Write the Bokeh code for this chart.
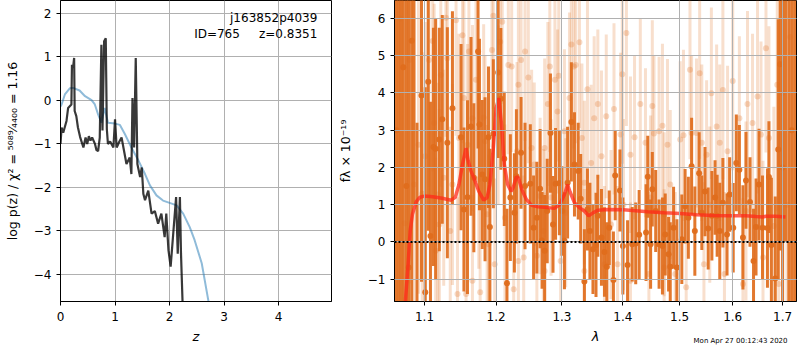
import numpy as np
from bokeh.plotting import figure
from bokeh.layouts import row
from bokeh.models import FixedTicker, PrintfTickFormatter, Span, Label, Title, CustomJSTickFormatter
from bokeh.embed import file_html
from bokeh.resources import INLINE

FONT = "DejaVu Sans"

# ---------------- left panel: log p(z) ----------------
PZ_Z_SMOOTH = [0.0, 0.02, 0.08, 0.17, 0.23, 0.35, 0.45, 0.57, 0.63, 0.69,
               0.75, 0.81, 0.87, 1.0, 1.09, 1.18, 1.3, 1.43, 1.55, 1.64,
               1.76, 1.88, 2.04, 2.13, 2.25, 2.37, 2.46, 2.59, 2.71, 2.8]
PZ_LOG_SMOOTH = [-0.15, -0.1, 0.13, 0.27, 0.28, 0.22, 0.09, 0.0, -0.1, -0.33,
                 -0.52, -0.18, -0.52, -0.54, -0.57, -0.78, -1.09, -1.39, -1.7, -1.96,
                 -2.19, -2.31, -2.38, -2.42, -2.61, -2.92, -3.22, -3.75, -4.6, -5.3]

PZ_Z = [0.0, 0.02, 0.05, 0.11, 0.14, 0.17, 0.20, 0.21, 0.23, 0.25,
        0.26, 0.29, 0.32, 0.36, 0.42, 0.46, 0.49, 0.52, 0.55, 0.58,
        0.63, 0.66, 0.69, 0.72, 0.75, 0.77, 0.80, 0.83, 0.85, 0.87,
        0.91, 0.97, 1.00, 1.03, 1.08, 1.12, 1.17, 1.21, 1.27, 1.30,
        1.32, 1.35, 1.38, 1.41, 1.46, 1.49, 1.52, 1.55, 1.61, 1.67,
        1.73, 1.79, 1.85, 1.91, 1.94, 1.98, 2.02, 2.07, 2.12, 2.15,
        2.19, 2.21, 2.24, 2.27]
PZ_LOG = [-1.01, -0.63, -0.75, -0.48, -0.18, -0.14, -0.10, 0.81, 0.74, 0.97,
          -0.25, -0.37, -0.63, -0.85, -1.09, -0.86, -1.01, -0.83, -0.93, -0.86,
          -1.00, -1.15, -1.17, -0.86, 1.27, -0.70, 1.35, 1.42, -0.67, -1.01,
          -0.95, -1.09, -0.44, -1.09, -0.95, -0.86, -1.20, -1.47, -1.32, -1.70,
          0.05, -1.09, 0.97, -1.47, -1.77, -1.55, -2.16, -2.30, -2.08, -2.61,
          -2.55, -2.84, -2.61, -3.15, -2.61, -3.45, -3.83, -3.03, -2.23, -3.53,
          -2.23, -3.53, -4.70, -6.50]

Z_TICKS = [0, 1, 2, 3, 4]
LOGP_TICKS = [-4, -3, -2, -1, 0, 1, 2]
FIELD_TEXT = "j163852p4039"
ID_TEXT = "ID=765"
Z_TEXT = "z=0.8351"

# ---------------- right panel: spectrum ----------------
DARK_WAVE = [1.072, 1.079, 1.083, 1.096, 1.101, 1.105, 1.108, 1.112, 1.115, 1.120,
             1.124, 1.131, 1.138, 1.150, 1.154, 1.159, 1.164, 1.168, 1.174, 1.176,
             1.180, 1.184, 1.189, 1.191, 1.196, 1.203, 1.207, 1.212, 1.216, 1.221,
             1.227, 1.230, 1.237, 1.243, 1.251, 1.256, 1.261, 1.266, 1.269, 1.273,
             1.277, 1.282, 1.286, 1.290, 1.296, 1.300, 1.304, 1.309, 1.315, 1.320,
             1.326, 1.330, 1.336, 1.341, 1.345, 1.350, 1.355, 1.358, 1.364, 1.369,
             1.373, 1.377, 1.384, 1.387, 1.395, 1.400, 1.408, 1.416, 1.422, 1.428,
             1.440, 1.443, 1.448, 1.451, 1.457, 1.463, 1.469, 1.474, 1.480, 1.483,
             1.489, 1.495, 1.504, 1.510, 1.516, 1.522, 1.528, 1.536, 1.541, 1.547,
             1.553, 1.560, 1.566, 1.570, 1.575, 1.581, 1.589, 1.594, 1.601, 1.607,
             1.613, 1.620, 1.626, 1.634, 1.641, 1.646, 1.652, 1.659, 1.669, 1.672,
             1.677, 1.685, 1.691, 1.695,
             1.063, 1.066, 1.069, 1.076, 1.086, 1.090, 1.700, 1.706, 1.713, 1.719, 1.725]
DARK_FLUX = [4.69, -0.69, 5.40, 3.93, -1.35, 4.30, 0.16, 2.55, 2.50, 2.75,
             3.29, 2.66, 3.59, 2.81, 0.87, 1.20, 3.10, 1.72, 5.11, 3.15,
             1.81, 1.68, 2.81, 0.40, 2.90, 4.55, 3.84, 2.23, -1.11, 1.19,
             0.78, 1.76, 2.39, 1.50, 1.56, 0.38, 0.65, 1.43, 0.04, -0.24,
             0.83, 2.92, 0.47, 1.56, 1.58, 0.83, 0.03, 1.59, 3.22, 2.08,
             1.90, 1.16, -1.06, 0.87, 0.29, -0.20, -0.08, 0.70, 0.12, -0.27,
             -0.67, 0.38, -1.02, 1.78, 1.38, -0.11, -0.62, -0.06, -0.04, 0.19,
             0.25, 1.75, -0.06, 1.41, 0.83, -0.06, -0.11, 0.20, -0.33, -0.67,
             0.38, -0.69, 0.07, 0.96, 0.65, 2.03, 0.29, 1.84, 0.78, 1.35,
             0.36, 0.70, 1.19, 0.70, 0.29, 1.05, 0.20, 1.27, 0.38, 2.12,
             1.94, 0.12, 1.65, 1.07, -0.51, 0.40, 1.54, 0.38, 0.37, 1.74,
             -0.08, -0.98, 2.48, 4.77,
             3.0, -2.5, 7.5, 1.5, 8.0, -2.8, 2.0, 9.0, -3.0, 3.0, 8.0]
DARK_ERR = [9.0, 7.5, 8.0, 5.0, 5.5, 4.0, 3.6, 3.2, 3.5, 3.0,
            2.8, 3.1, 2.6, 2.5, 2.2, 2.6, 2.4, 2.0, 2.6, 2.3,
            2.0, 2.2, 1.9, 2.1, 2.0, 2.3, 1.9, 1.8, 2.0, 1.7,
            1.6, 1.8, 1.5, 1.7, 1.6, 1.4, 1.5, 1.6, 1.3, 1.5,
            1.4, 1.6, 1.3, 1.5, 1.4, 1.2, 1.3, 1.5, 1.6, 1.4,
            1.3, 1.2, 1.4, 1.1, 1.3, 1.2, 1.4, 1.1, 1.3, 1.2,
            1.2, 1.0, 1.3, 1.2, 1.1, 1.3, 1.2, 1.0, 1.1, 1.2,
            1.3, 1.1, 1.2, 1.0, 1.1, 1.2, 1.3, 1.1, 1.0, 1.2,
            1.1, 1.3, 1.2, 1.0, 1.1, 1.3, 1.2, 1.1, 1.0, 1.2,
            1.1, 1.2, 1.0, 1.1, 1.3, 1.2, 1.1, 1.0, 1.2, 1.3,
            1.2, 1.4, 1.3, 1.2, 1.4, 1.3, 1.5, 1.4, 1.6, 1.5,
            1.8, 2.2, 3.5, 5.0,
            12, 12, 11, 10, 7, 6, 10, 9, 12, 11, 12]

LIGHT_WAVE = [1.080, 1.086, 1.092, 1.097, 1.101, 1.106, 1.111, 1.113, 1.118, 1.120,
              1.122, 1.126, 1.129, 1.131, 1.135, 1.138, 1.143, 1.145, 1.147, 1.152,
              1.154, 1.157, 1.159, 1.161, 1.166, 1.171, 1.175, 1.177, 1.182, 1.184,
              1.187, 1.194, 1.196, 1.198, 1.203, 1.206, 1.209, 1.213, 1.218, 1.223,
              1.226, 1.231, 1.233, 1.237, 1.241, 1.243, 1.248, 1.253, 1.257, 1.261,
              1.266, 1.271, 1.273, 1.278, 1.281, 1.283, 1.289, 1.293, 1.295, 1.298,
              1.304, 1.306, 1.312, 1.315, 1.319, 1.322, 1.328, 1.332, 1.336, 1.341,
              1.347, 1.352, 1.358, 1.364, 1.369, 1.372, 1.380, 1.385, 1.391, 1.396,
              1.399, 1.406, 1.413, 1.420, 1.430, 1.439, 1.445, 1.451, 1.454, 1.463,
              1.469, 1.472, 1.478, 1.483, 1.492, 1.501, 1.507, 1.512, 1.519, 1.522,
              1.531, 1.537, 1.541, 1.545, 1.550, 1.559, 1.569, 1.575, 1.581, 1.584,
              1.590, 1.600, 1.613, 1.620, 1.629, 1.639, 1.649, 1.656, 1.660, 1.666,
              1.672, 1.682, 1.689, 1.692, 1.115, 1.166, 1.233, 1.273, 1.189, 1.336,
              1.413, 1.401, 1.472, 1.556, 1.626, 1.448,
              1.064, 1.068, 1.074, 1.700, 1.709, 1.716]
LIGHT_FLUX = [4.88, 1.54, 2.61, 1.29, 2.30, 4.88, 5.39, 3.19, 1.27, 0.47,
              4.48, 1.72, 6.02, 4.93, 0.29, 1.54, 5.95, -1.40, 2.79, 5.55,
              3.86, -1.40, 2.61, 5.11, 3.32, 4.35, 1.68, -1.35, 3.34, 2.70,
              0.74, 5.15, 6.07, -0.60, 3.41, 5.37, 5.91, 0.65, 4.75, 4.71,
              -1.27, 2.43, 4.22, 4.88, -0.42, 5.11, 4.41, 2.52, 2.08, -0.37,
              1.23, 0.29, 2.52, 3.70, 4.71, 1.19, 4.35, 3.50, 4.46, -0.51,
              2.97, 0.78, 3.86, 5.30, 4.71, 4.75, 5.36, 2.79, 1.59, 4.10,
              2.12, 3.32, 3.70, 2.30, -0.60, 3.37, 0.47, 3.57, -0.60, 2.88,
              4.50, 5.61, 2.34, 2.81, 3.70, 2.66, -0.86, 3.65, 2.91, 2.97,
              3.12, -0.69, 2.61, 1.54, -0.86, 2.75, 2.86, -1.22, 4.62, 2.92,
              2.92, 4.53, 2.66, -0.60, 2.34, 3.99, 3.10, 2.66, 4.08, -0.86,
              2.43, 4.32, 3.32, -1.13, 3.70, 3.19, 3.90, 2.88, -0.42, 5.20,
              2.79, 0.43, 4.22, -1.13, -0.24, -1.04, -0.51, -0.78, -0.06, -0.78,
              -1.04, 1.00, 0.74, 1.00, 0.83, 1.19,
              2.0, 6.0, 0.5, 4.0, 1.0, 5.5]
LIGHT_ERR = [6.0, 4.5, 4.0, 3.8, 3.6, 3.4, 3.5, 3.2, 3.0, 3.1,
             3.0, 2.9, 3.2, 3.0, 2.8, 2.7, 3.1, 2.6, 2.8, 2.9,
             2.6, 2.5, 2.7, 2.6, 2.5, 2.8, 2.4, 2.6, 2.5, 2.3,
             2.4, 2.6, 2.5, 2.3, 2.4, 2.6, 2.2, 2.5, 2.4, 2.3,
             2.2, 2.4, 2.3, 2.5, 2.2, 2.4, 2.3, 2.1, 2.2, 2.3,
             2.1, 2.2, 2.4, 2.2, 2.3, 2.1, 2.4, 2.2, 2.3, 2.1,
             2.2, 2.0, 2.3, 2.4, 2.2, 2.1, 2.3, 2.0, 2.2, 2.4,
             2.1, 2.2, 2.0, 2.3, 2.1, 2.2, 2.0, 2.3, 2.1, 2.2,
             2.4, 2.5, 2.1, 2.2, 2.3, 2.0, 2.2, 2.3, 2.1, 2.0,
             2.2, 2.1, 2.3, 2.0, 2.2, 2.1, 2.3, 2.2, 2.4, 2.1,
             2.0, 2.3, 2.1, 2.2, 2.0, 2.3, 2.2, 2.1, 2.4, 2.2,
             2.3, 2.4, 2.2, 2.3, 2.5, 2.4, 2.6, 2.5, 2.6, 2.8,
             3.0, 3.2, 3.4, 3.6, 2.5, 2.3, 2.2, 2.1, 2.4, 2.2,
             2.1, 2.3, 2.2, 2.1, 2.4, 2.2,
             12, 10, 9, 8, 10, 9]

MODEL_WAVE = [1.074, 1.078, 1.081, 1.084, 1.089, 1.094, 1.100, 1.111, 1.124, 1.136,
              1.142, 1.147, 1.152, 1.157, 1.160, 1.164, 1.168, 1.175, 1.182, 1.187,
              1.191, 1.196, 1.200, 1.204, 1.208, 1.212, 1.217, 1.222, 1.225, 1.230,
              1.233, 1.238, 1.245, 1.253, 1.263, 1.278, 1.288, 1.296, 1.304, 1.309,
              1.313, 1.320, 1.328, 1.336, 1.343, 1.350, 1.358, 1.374, 1.401, 1.443,
              1.472, 1.501, 1.531, 1.563, 1.594, 1.626, 1.646, 1.659, 1.666, 1.685, 1.706]
MODEL_FLUX = [-1.8, -0.69, 0.29, 0.74, 1.08, 1.20, 1.23, 1.21, 1.17, 1.12,
              1.20, 1.54, 2.08, 2.52, 2.17, 1.90, 1.72, 1.36, 1.12, 1.19,
              1.54, 2.52, 3.59, 3.86, 3.15, 2.08, 1.54, 1.36, 1.45, 1.75,
              1.72, 1.41, 1.14, 0.98, 0.94, 0.92, 0.90, 0.99, 1.27, 1.54,
              1.34, 1.05, 0.92, 0.83, 0.70, 0.78, 0.85, 0.87, 0.86, 0.81,
              0.78, 0.76, 0.73, 0.71, 0.70, 0.70, 0.68, 0.67, 0.69, 0.69, 0.67]

WAVE_TICKS = [1.1, 1.2, 1.3, 1.4, 1.5, 1.6, 1.7]
FLUX_TICKS = [-1, 0, 1, 2, 3, 4, 5, 6]
TIMESTAMP = "Mon Apr 27 00:12:43 2020"

ORANGE = "#df6d1c"
MINUS_FMT = "return tick.toFixed(0).replace('-', '\u2212');"


def style(p):
    p.outline_line_color = "black"
    p.outline_line_width = 1
    p.outline_line_alpha = 1
    p.background_fill_color = "white"
    p.border_fill_color = "white"
    for ax in (p.xaxis[0], p.yaxis[0]):
        ax.major_label_text_font = FONT
        ax.major_label_text_font_size = "12px"
        ax.major_label_text_color = "black"
        ax.axis_label_text_font = FONT
        ax.axis_label_text_color = "black"
        ax.minor_tick_line_color = None
        ax.major_tick_out = 4
        ax.major_tick_in = 0
        ax.major_tick_line_color = "black"
        ax.axis_line_color = "black"
    p.xaxis.major_label_standoff = 6
    p.yaxis.major_label_standoff = 5
    p.xaxis.axis_label_text_font_size = "13px"
    p.xaxis.axis_label_text_font_style = "italic"
    p.xaxis.axis_label_standoff = 5
    p.yaxis.axis_label_text_font_size = "12.5px"
    p.yaxis.axis_label_text_font_style = "normal"
    p.grid.grid_line_color = "#b0b0b0"
    p.grid.grid_line_width = 1
    p.grid.grid_line_alpha = 1


# ---------------- left figure ----------------
p1 = figure(width=334, height=346, x_range=(0, 4.97), y_range=(-4.63, 2.29),
            min_border_left=60, min_border_right=3, min_border_top=0, min_border_bottom=44,
            output_backend="svg", toolbar_location=None)
style(p1)
p1.xaxis.ticker = FixedTicker(ticks=Z_TICKS)
p1.yaxis.ticker = FixedTicker(ticks=LOGP_TICKS)
p1.xaxis.formatter = CustomJSTickFormatter(code=MINUS_FMT)
p1.yaxis.formatter = CustomJSTickFormatter(code=MINUS_FMT)
p1.xaxis.axis_label = "z"
p1.yaxis.axis_label = "log p(z) / \u03c7\u00b2 = \u2075\u2070\u2078\u2079\u2044\u2084\u2084\u2080\u2080 = 1.16"
p1.yaxis.axis_label_standoff = 11

p1.line(PZ_Z_SMOOTH, PZ_LOG_SMOOTH, line_color="#1f77b4", line_alpha=0.5, line_width=2)
p1.line(PZ_Z, PZ_LOG, line_color="black", line_alpha=0.78, line_width=2.2)

for txt, xx, yy in ((FIELD_TEXT, 4.71, 1.88), (ID_TEXT, 3.29, 1.53), (Z_TEXT, 4.71, 1.53)):
    p1.add_layout(Label(x=xx, y=yy, text=txt, text_align="right", text_baseline="middle",
                        text_font=FONT, text_font_size="12px", text_color="black"))

# ---------------- right figure ----------------
p2 = figure(width=463, height=346, x_axis_type="log", x_range=(1.0606, 1.729), y_range=(-1.6, 6.48),
            min_border_left=56, min_border_right=1, min_border_top=0, min_border_bottom=44,
            output_backend="svg", toolbar_location=None)
style(p2)
p2.xaxis.ticker = FixedTicker(ticks=WAVE_TICKS)
p2.xaxis.formatter = PrintfTickFormatter(format="%.1f")
p2.yaxis.ticker = FixedTicker(ticks=FLUX_TICKS)
p2.yaxis.formatter = CustomJSTickFormatter(code=MINUS_FMT)
p2.xaxis.axis_label = "\u03bb"
p2.yaxis.axis_label = "f\u03bb \u00d7 10\u207b\u00b9\u2079"
p2.yaxis.axis_label_standoff = 12
p2.grid.level = "overlay"

lw = np.array(LIGHT_WAVE)
lf = np.array(LIGHT_FLUX)
le = np.array(LIGHT_ERR)
p2.segment(x0=lw, y0=lf - le, x1=lw, y1=lf + le, line_color=ORANGE, line_alpha=0.22, line_width=3)
p2.scatter(lw, lf, size=6, fill_color=ORANGE, fill_alpha=0.25, line_color=None)

dw = np.array(DARK_WAVE)
df = np.array(DARK_FLUX)
de = np.array(DARK_ERR)
p2.segment(x0=dw, y0=df - de, x1=dw, y1=df + de, line_color=ORANGE, line_alpha=0.92, line_width=3)
p2.scatter(dw, df, size=6, fill_color=ORANGE, fill_alpha=0.95, line_color=None)

p2.line(MODEL_WAVE, MODEL_FLUX, line_color="#ff2a1a", line_alpha=0.75, line_width=3.5)
zero = Span(location=0, dimension="width", line_color="black", line_dash="2 2", line_width=2)
zero.level = "overlay"
p2.add_layout(zero)

# timestamp: a small right-aligned title in the bottom panel, pulled up next to the axis label
stamp = Title(text=TIMESTAMP, align="right", vertical_align="top", offset=9, standoff=-20,
              text_font=FONT, text_font_size="7px", text_font_style="normal", text_color="black")
p2.add_layout(stamp, "below")

layout = row(p1, p2)
open("out.html", "w").write(file_html(layout, INLINE))
